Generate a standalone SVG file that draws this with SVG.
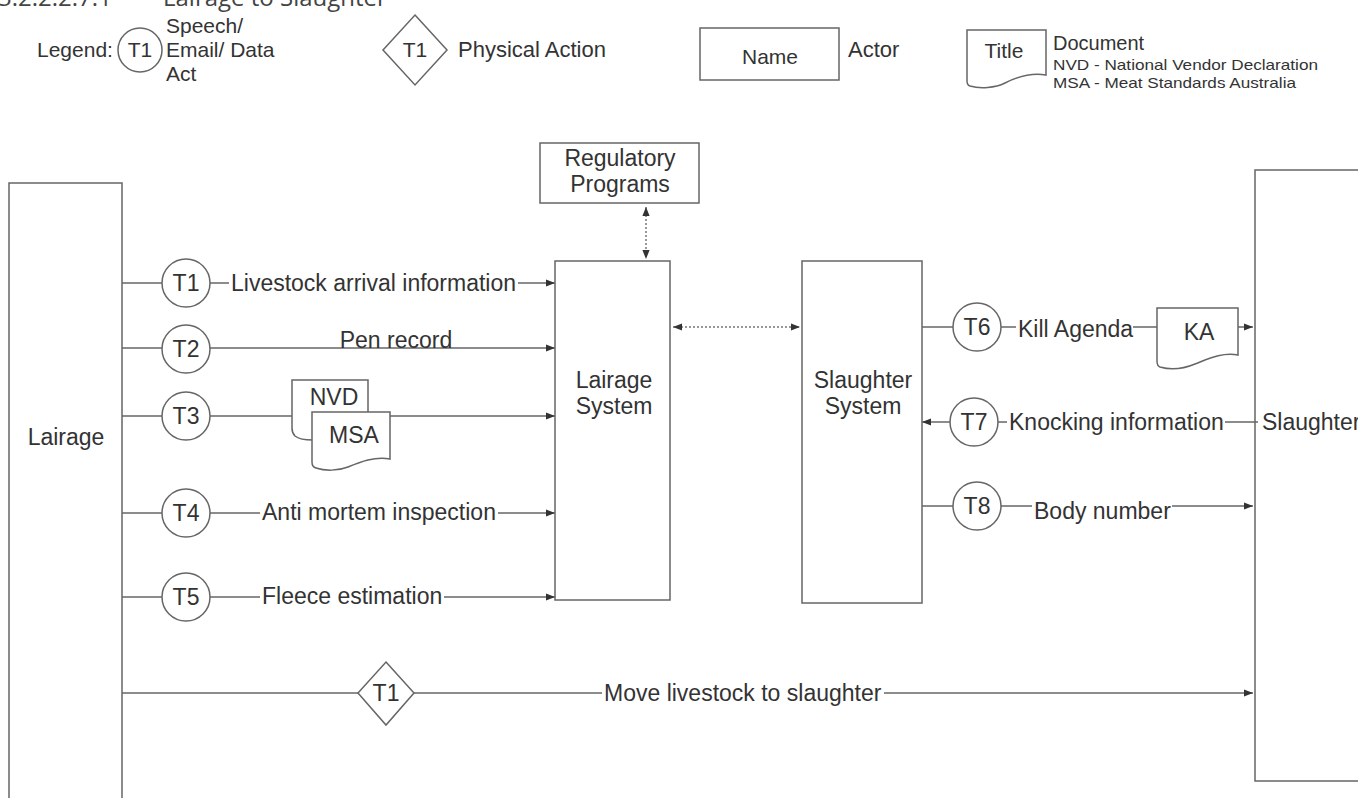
<svg xmlns="http://www.w3.org/2000/svg" width="1358" height="798" viewBox="0 0 1358 798">
<defs>
<marker id="ah" viewBox="0 0 10 10" refX="10" refY="5" markerWidth="9" markerHeight="9" markerUnits="userSpaceOnUse" orient="auto-start-reverse">
<path d="M0,1 L10,5 L0,9 Z" fill="#333"/>
</marker>
<style>
text{font-family:"Liberation Sans",Arial,sans-serif;fill:#333;font-size:23px}
.c{text-anchor:middle}
.lg{font-size:21px}
.ln{stroke:#666;stroke-width:1.5;fill:none}
.dot{stroke:#777;stroke-width:1.5;fill:none;stroke-dasharray:2,2}
.box{stroke:#666;stroke-width:1.5;fill:#fff}
.open{stroke:#666;stroke-width:1.5;fill:none}
.bg{fill:#fff}
</style>
</defs>
<rect width="1358" height="798" fill="#fff"/>
<text y="6" style="font-family:'Open Sans',sans-serif;font-size:24px;fill:#444"><tspan x="-2">3.2.2.2.7.1</tspan><tspan x="125">–</tspan><tspan x="163">Lairage to Slaughter</tspan></text>

<g id="legend">
<text x="37" y="57" class="lg">Legend:</text>
<circle cx="140" cy="50" r="22" class="box"/>
<text x="140" y="57" class="c lg">T1</text>
<text x="166" y="33" class="lg">Speech/</text>
<text x="166" y="57" class="lg">Email/ Data</text>
<text x="166" y="81" class="lg">Act</text>
<path d="M415,15 L447,50 L415,85 L383,50 Z" class="box"/>
<text x="415" y="57" class="c lg">T1</text>
<text x="458" y="57" class="lg" style="font-size:22px">Physical Action</text>
<rect x="700" y="28" width="139" height="52" class="box"/>
<text x="770" y="64" class="c lg">Name</text>
<text x="848" y="57" class="lg" style="font-size:22px">Actor</text>
<path d="M967,30 H1046 V75 C1030,72 1015,78 1005,83 C995,88 980,89 970,86 Q967,85 967,81 Z" class="box"/>
<text x="1004" y="58" class="c lg">Title</text>
<text x="1053" y="50" style="font-size:20px">Document</text>
<text x="1053" y="70" style="font-size:15px" textLength="265" lengthAdjust="spacingAndGlyphs">NVD - National Vendor Declaration</text>
<text x="1053" y="88" style="font-size:15px" textLength="243" lengthAdjust="spacingAndGlyphs">MSA - Meat Standards Australia</text>
</g>

<g id="connectors">
<line x1="646" y1="207" x2="646" y2="259" class="dot" marker-start="url(#ah)" marker-end="url(#ah)"/>
<line x1="673" y1="327" x2="800" y2="327" class="dot" marker-start="url(#ah)" marker-end="url(#ah)"/>
<line x1="122" y1="283" x2="555" y2="283" class="ln" marker-end="url(#ah)"/>
<line x1="122" y1="348" x2="555" y2="348" class="ln" marker-end="url(#ah)"/>
<line x1="122" y1="416" x2="555" y2="416" class="ln" marker-end="url(#ah)"/>
<line x1="122" y1="513" x2="555" y2="513" class="ln" marker-end="url(#ah)"/>
<line x1="122" y1="597" x2="555" y2="597" class="ln" marker-end="url(#ah)"/>
<line x1="922" y1="327" x2="1253" y2="327" class="ln" marker-end="url(#ah)"/>
<line x1="1258" y1="422" x2="922" y2="422" class="ln" marker-end="url(#ah)"/>
<line x1="922" y1="506" x2="1253" y2="506" class="ln" marker-end="url(#ah)"/>
<line x1="122" y1="693" x2="1253" y2="693" class="ln" marker-end="url(#ah)"/>
</g>

<g id="lairage">
<rect x="9" y="183" width="113" height="700" class="open"/>
<text x="66" y="445" class="c">Lairage</text>
</g>
<g id="regulatory">
<rect x="540" y="143" width="159" height="60" class="box"/>
<text x="620" y="166" class="c">Regulatory</text>
<text x="620" y="192" class="c">Programs</text>
</g>
<g id="lairage-system">
<rect x="555" y="261" width="115" height="339" class="open"/>
<text x="614" y="388" class="c">Lairage</text>
<text x="614" y="414" class="c">System</text>
</g>
<g id="slaughter-system">
<rect x="802" y="261" width="120" height="342" class="open"/>
<text x="863" y="388" class="c">Slaughter</text>
<text x="863" y="414" class="c">System</text>
</g>
<g id="slaughter">
<rect x="1255" y="170" width="200" height="611" class="open"/>
<rect x="1260" y="408" width="100" height="28" class="bg"/>
<text x="1262" y="430">Slaughter</text>
</g>

<g id="t1">
<circle cx="186" cy="283" r="24" class="box"/>
<text x="186" y="291" class="c">T1</text>
<rect x="229" y="270" width="289" height="26" class="bg"/>
<text x="231" y="291">Livestock arrival information</text>
</g>
<g id="t2">
<circle cx="186" cy="349" r="24" class="box"/>
<text x="186" y="357" class="c">T2</text>
<text x="396" y="348" class="c">Pen record</text>
</g>
<g id="t3">
<circle cx="186" cy="416" r="24" class="box"/>
<text x="186" y="424" class="c">T3</text>
</g>
<g id="doc-nvd">
<path d="M292,380 H368 V430 L313,430 L313,440 Q300,440 295,436 Q292,433 292,428 Z" class="box"/>
<text x="334" y="405" class="c">NVD</text>
</g>
<g id="doc-msa">
<path d="M312,412 H390 V459 C375,456 360,462 348,467 C338,471 325,471 316,468 Q312,467 312,462 Z" class="box"/>
<text x="354" y="443" class="c">MSA</text>
</g>
<g id="t4">
<circle cx="186" cy="513" r="24" class="box"/>
<text x="186" y="521" class="c">T4</text>
<rect x="260" y="500" width="238" height="26" class="bg"/>
<text x="262" y="520">Anti mortem inspection</text>
</g>
<g id="t5">
<circle cx="186" cy="597" r="24" class="box"/>
<text x="186" y="605" class="c">T5</text>
<rect x="260" y="584" width="184" height="26" class="bg"/>
<text x="262" y="604">Fleece estimation</text>
</g>
<g id="t6">
<circle cx="977" cy="327" r="24" class="box"/>
<text x="977" y="335" class="c">T6</text>
<rect x="1016" y="316" width="117" height="26" class="bg"/>
<text x="1018" y="337">Kill Agenda</text>
</g>
<g id="doc-ka">
<path d="M1157,308 H1238 V355 C1222,352 1208,359 1195,364 C1183,369 1170,370 1160,367 Q1157,366 1157,361 Z" class="box"/>
<text x="1199" y="340" class="c">KA</text>
</g>
<g id="t7">
<circle cx="974" cy="422" r="24" class="box"/>
<text x="974" y="430" class="c">T7</text>
<rect x="1007" y="410" width="218" height="26" class="bg"/>
<text x="1009" y="430">Knocking information</text>
</g>
<g id="t8">
<circle cx="977" cy="506" r="24" class="box"/>
<text x="977" y="514" class="c">T8</text>
<rect x="1032" y="499" width="140" height="26" class="bg"/>
<text x="1034" y="519">Body number</text>
</g>
<g id="t1-physical">
<path d="M386,662 L414,693 L386,725 L358,693 Z" class="box"/>
<text x="386" y="701" class="c">T1</text>
<rect x="602" y="680" width="282" height="26" class="bg"/>
<text x="604" y="701">Move livestock to slaughter</text>
</g>
</svg>
